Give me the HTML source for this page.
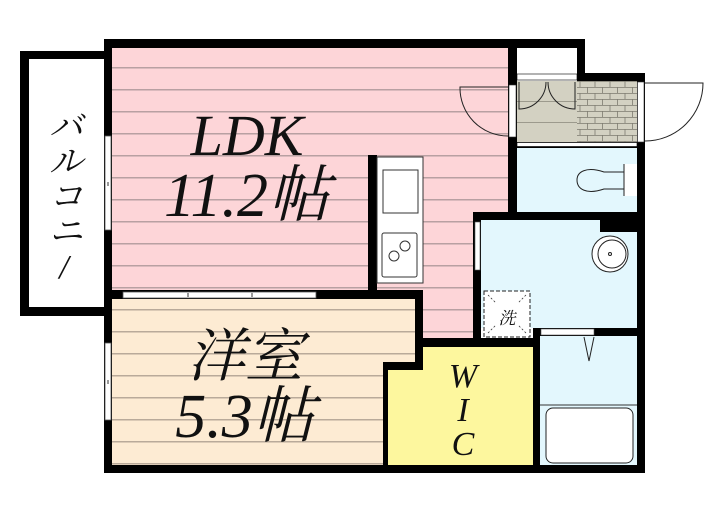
<!DOCTYPE html>
<html><head><meta charset="utf-8"><style>
html,body{margin:0;padding:0;background:#fff;}
svg{display:block;}
.t{font-family:"Liberation Serif","Noto Serif CJK SC",serif;font-style:italic;fill:#111;}
</style></head><body>
<svg width="720" height="512" viewBox="0 0 720 512" xmlns="http://www.w3.org/2000/svg">
<defs>
<pattern id="pk" width="10" height="22" patternUnits="userSpaceOnUse" y="3">
<rect width="10" height="22" fill="#fdd5d8"/><rect y="20" width="10" height="1.5" fill="#b8a0a2"/></pattern>
<pattern id="bg" width="10" height="22" patternUnits="userSpaceOnUse" y="3">
<rect width="10" height="22" fill="#fdebd3"/><rect y="20" width="10" height="1.5" fill="#b9aa9a"/></pattern>
<pattern id="tile" width="15" height="12" patternUnits="userSpaceOnUse" x="577" y="81">
<rect width="15" height="12" fill="#d3d1c2"/>
<path d="M0 0.5H15M0 6.5H15M3 0V6M10.5 6V12" stroke="#7d7b70" stroke-width="0.8" fill="none"/></pattern>
</defs>
<rect x="20" y="51" width="92" height="265" fill="#000"/>
<rect x="29" y="59" width="75" height="248" fill="#fff"/>
<rect x="112" y="48" width="396" height="242" fill="url(#pk)"/>
<rect x="423" y="212" width="50" height="126" fill="url(#pk)"/>
<rect x="112" y="299" width="303" height="166" fill="url(#bg)"/>
<path d="M423 347H533V465H388V370H423Z" fill="#fdf79e"/>
<rect x="423" y="338" width="110" height="9" fill="#000"/>
<rect x="517" y="81" width="60" height="61" fill="#d3d1c2"/>
<path d="M517 101.5H577M517 122.5H577" stroke="#8a887c" stroke-width="0.8"/>
<rect x="577" y="81" width="60" height="61" fill="url(#tile)"/>
<rect x="517" y="148" width="120" height="64" fill="#e3f7fd"/>
<rect x="481" y="220" width="156" height="108" fill="#e3f7fd"/>
<rect x="540" y="336" width="97" height="129" fill="#e3f7fd"/>
<g fill="#000">
<rect x="104" y="39" width="8" height="434"/>
<rect x="104" y="39" width="481" height="9"/>
<rect x="104" y="465" width="541" height="8"/>
<rect x="508" y="39" width="9" height="181"/>
<rect x="577" y="39" width="8" height="42"/>
<rect x="577" y="73" width="68" height="8"/>
<rect x="637" y="73" width="8" height="400"/>
<rect x="517" y="142" width="120" height="6"/>
<rect x="473" y="212" width="172" height="8"/>
<rect x="600" y="220" width="45" height="12"/>
<rect x="473" y="212" width="8" height="135"/>
<rect x="533" y="328" width="112" height="8"/>
<rect x="533" y="328" width="7" height="145"/>
<rect x="112" y="290" width="311" height="9"/>
<rect x="415" y="290" width="8" height="80"/>
<rect x="383" y="362" width="40" height="8"/>
<rect x="383" y="362" width="5" height="111"/>
<rect x="368" y="155" width="9" height="135"/>
</g>
<rect x="517" y="48" width="60" height="25" fill="#fff"/>
<rect x="517" y="74" width="60" height="6" fill="#fff" stroke="#000" stroke-width="0.6"/>
<rect x="517" y="142.5" width="120" height="4" fill="#fff" stroke="#000" stroke-width="0.6"/>
<rect x="541" y="329" width="53" height="6" fill="#fff" stroke="#555" stroke-width="0.6"/>
<rect x="475" y="222" width="5" height="48" fill="#fff" stroke="#555" stroke-width="0.6"/>
<rect x="105" y="136" width="6" height="94" fill="#fff" stroke="#555" stroke-width="0.8"/>
<rect x="105" y="343" width="6" height="77" fill="#fff" stroke="#555" stroke-width="0.8"/>
<rect x="123" y="292" width="193" height="6" fill="#fff" stroke="#555" stroke-width="0.8"/>
<path d="M108 182V186M108 380V384M188 293V297M252 293V297" stroke="#333"/>
<rect x="509" y="85" width="7" height="52" fill="#fff" stroke="#333" stroke-width="0.6"/>
<path d="M508 87H460A48 48 0 0 0 508 136" fill="none" stroke="#222"/>
<rect x="637.5" y="82" width="6.5" height="60" fill="#fff" stroke="#333" stroke-width="0.6"/>
<path d="M645 83H703A58 58 0 0 1 645 141" fill="none" stroke="#222"/>
<path d="M519 82V109A27 27 0 0 0 546 82M575 82V109A27 27 0 0 1 548 82" fill="none" stroke="#222"/>
<path d="M624 164V172H604C586 166 577 172 577 180C577 189 586 195 604 189H624V196" fill="none" stroke="#222"/>
<rect x="624" y="164" width="13" height="32" fill="#fff"/>
<path d="M624 164V196" stroke="#222"/>
<circle cx="610" cy="254" r="18" fill="#fff" stroke="#222"/>
<circle cx="612" cy="254" r="14" fill="none" stroke="#222"/>
<circle cx="610" cy="254" r="1.5" fill="none" stroke="#222"/>
<rect x="484" y="291" width="46" height="46" fill="#fff" stroke="#222" stroke-dasharray="4,2"/>
<path d="M488 295L496 303M526 295L518 303M488 333L496 325M526 333L518 325" stroke="#222" stroke-width="0.7" stroke-dasharray="2,2"/>
<text x="507" y="324" class="t" font-size="17" text-anchor="middle">洗</text>
<path d="M584 337L589 361L594 337" fill="none" stroke="#222"/>
<path d="M540 405H637" stroke="#333"/>
<rect x="546" y="408" width="87" height="55" rx="7" fill="#fff" stroke="#222"/>
<rect x="377" y="157" width="46" height="126" fill="#fff" stroke="#333"/>
<rect x="383" y="170" width="35" height="43" fill="#fff" stroke="#333"/>
<rect x="382" y="233" width="35" height="44" rx="2" fill="#fff" stroke="#333"/>
<circle cx="394" cy="256" r="5" fill="none" stroke="#333"/>
<circle cx="405" cy="246" r="5" fill="none" stroke="#333"/>
<text x="247" y="155" class="t" font-size="58" text-anchor="middle">LDK</text>
<text x="247" y="216" class="t" font-size="62" text-anchor="middle">11.2帖</text>
<text x="245" y="376" class="t" font-size="58" text-anchor="middle">洋室</text>
<text x="245" y="437" class="t" font-size="62" text-anchor="middle">5.3帖</text>
<text x="66" y="138" class="t" font-size="34" text-anchor="middle">バ</text>
<text x="66" y="173" class="t" font-size="34" text-anchor="middle">ル</text>
<text x="66" y="208" class="t" font-size="34" text-anchor="middle">コ</text>
<text x="66" y="243" class="t" font-size="34" text-anchor="middle">ニ</text>
<text x="64" y="278" class="t" font-size="34" text-anchor="middle">/</text>
<text x="463" y="387" class="t" font-size="34" text-anchor="middle">W</text>
<text x="463" y="421" class="t" font-size="34" text-anchor="middle">I</text>
<text x="463" y="455" class="t" font-size="34" text-anchor="middle">C</text>
</svg>
</body></html>
